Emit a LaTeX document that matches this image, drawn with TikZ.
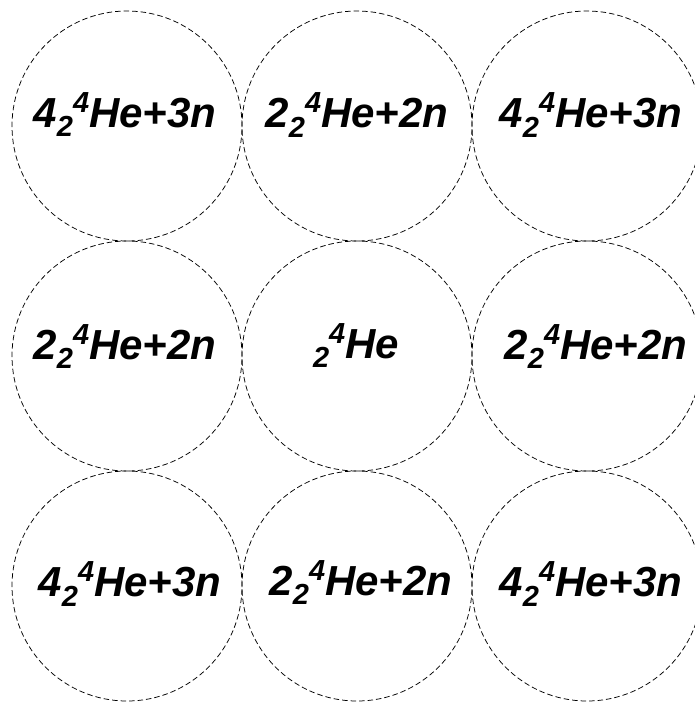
\documentclass[tikz,border=0pt]{standalone}
\usepackage{fontspec}
\setmainfont{Liberation Sans}
\newcommand{\nsub}[1]{\raisebox{-9.5pt}{\fontsize{29}{29}\selectfont #1}}
\newcommand{\nsup}[1]{\raisebox{15pt}{\fontsize{29}{29}\selectfont #1}}
\newcommand{\heA}{4\nsub{2}\nsup{4}He+3n}
\newcommand{\heB}{2\nsub{2}\nsup{4}He+2n}
\tikzset{
  cell/.style={circle, draw, dashed, dash pattern=on 5.5pt off 3pt, line width=0.75pt, minimum size=230pt, inner sep=0pt},
  nucl/.style={anchor=base, inner sep=0pt, font=\fontsize{42}{42}\selectfont\bfseries\itshape}
}
\begin{document}
\begin{tikzpicture}[x=1pt, y=-1pt]
        \useasboundingbox (0,0) rectangle (694,703);
        % Circles
        \node[cell] (c11) at (127,126) {};
        \node[cell] (c12) at (357,126) {};
        \node[cell] (c13) at (587,126) {};
        \node[cell] (c21) at (127,356) {};
        \node[cell] (c22) at (357,356) {};
        \node[cell] (c23) at (587,356) {};
        \node[cell] (c31) at (127,586) {};
        \node[cell] (c32) at (357,586) {};
        \node[cell] (c33) at (587,586) {};

        % Labels
        \node[nucl] (t11) at (125,127.5) {\heA};
        \node[nucl] (t12) at (357,128) {\heB};
        \node[nucl] (t13) at (591,128) {\heA};
        \node[nucl] (t21) at (125,359) {\heB};
        \node[nucl] (t22) at (356,358) {\nsub{2}\nsup{4}He};
        \node[nucl] (t23) at (596,359) {\heB};
        \node[nucl] (t31) at (130,596.5) {\heA};
        \node[nucl] (t32) at (361,595) {\heB};
        \node[nucl] (t33) at (591,596.5) {\heA};
    \end{tikzpicture}
\end{document}
